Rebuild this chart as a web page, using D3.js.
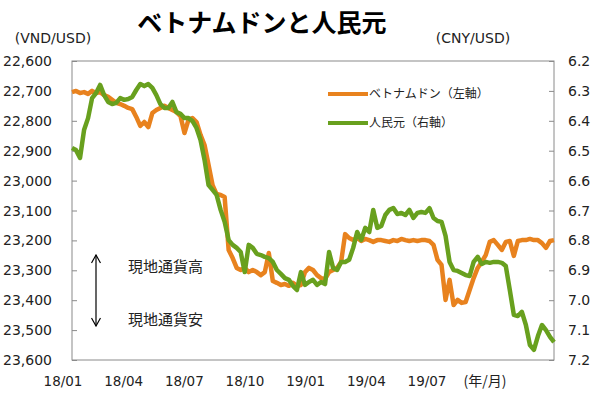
<!DOCTYPE html>
<html>
<head>
<meta charset="utf-8">
<script src="https://cdn.jsdelivr.net/npm/d3@7"></script>
<style>
  body { margin: 0; background: #fff; }
  text { font-family: "DejaVu Sans", sans-serif; fill: #222; }
  .jp { font-family: "Noto Sans CJK JP", sans-serif; }
</style>
</head>
<body>
<svg id="chart" width="594" height="393"></svg>
<script>
'use strict'

// ベトナムドン (VND/USD, left axis), sampled across the period
var vnd = [
  22704, 22700, 22707, 22704, 22710, 22700, 22707, 22704, 22714, 22720,
  22730, 22740, 22744, 22750, 22757, 22761, 22787, 22817, 22804, 22821,
  22774, 22764, 22757, 22750, 22757, 22764, 22771, 22784, 22841, 22797,
  22791, 22804, 22847, 22881, 22948, 23015, 23045, 23048, 23055, 23232,
  23259, 23292, 23299, 23292, 23306, 23299, 23306, 23316, 23306, 23242,
  23336, 23342, 23349, 23346, 23352, 23342, 23352, 23349, 23306, 23292,
  23299, 23316, 23326, 23329, 23306, 23299, 23292, 23272, 23179, 23192,
  23199, 23192, 23202, 23195, 23199, 23205, 23199, 23199, 23202, 23205,
  23199, 23202, 23195, 23199, 23202, 23199, 23202, 23199, 23199, 23202,
  23215, 23265, 23282, 23399, 23332, 23416, 23399, 23409, 23406, 23366,
  23326, 23292, 23272, 23249, 23205, 23199, 23215, 23232, 23205, 23202,
  23252, 23202, 23199, 23199, 23195, 23199, 23199, 23209, 23225, 23202,
  23199
]

// 人民元 (CNY/USD, right axis)
var cny = [
  6.491, 6.498, 6.524, 6.431, 6.391, 6.324, 6.307, 6.280, 6.314, 6.337,
  6.344, 6.340, 6.324, 6.330, 6.327, 6.320, 6.297, 6.277, 6.284, 6.277,
  6.290, 6.314, 6.344, 6.357, 6.357, 6.337, 6.371, 6.377, 6.391, 6.391,
  6.401, 6.424, 6.464, 6.531, 6.615, 6.631, 6.648, 6.698, 6.738, 6.799,
  6.815, 6.825, 6.839, 6.906, 6.815, 6.825, 6.845, 6.849, 6.855, 6.859,
  6.872, 6.899, 6.912, 6.926, 6.932, 6.952, 6.966, 6.906, 6.949, 6.939,
  6.932, 6.949, 6.939, 6.946, 6.839, 6.892, 6.899, 6.872, 6.872, 6.865,
  6.825, 6.772, 6.799, 6.758, 6.772, 6.698, 6.758, 6.752, 6.715, 6.698,
  6.692, 6.712, 6.708, 6.715, 6.698, 6.725, 6.708, 6.705, 6.708, 6.692,
  6.725, 6.735, 6.738, 6.785, 6.872, 6.899, 6.902, 6.909, 6.916, 6.919,
  6.872, 6.855, 6.879, 6.872, 6.875, 6.872, 6.872, 6.875, 6.886, 6.966,
  7.049, 7.053, 7.039, 7.083, 7.150, 7.166, 7.120, 7.083, 7.100, 7.123,
  7.140
]

var xLabels = ["18/01", "18/04", "18/07", "18/10", "19/01", "19/04", "19/07"]
var leftTicks = d3.range(22600, 23601, 100)
var rightTicks = d3.range(6.2, 7.21, 0.1)

var plot = { left: 72, right: 554, top: 61, bottom: 360 }
var orange = "#E8821E"
var green = "#68A01E"

var svg = d3.select("#chart")

var x = d3.scaleLinear().domain([0, vnd.length - 1]).range([plot.left, plot.right])
var yL = d3.scaleLinear().domain([22600, 23600]).range([plot.top, plot.bottom])
var yR = d3.scaleLinear().domain([6.2, 7.2]).range([plot.top, plot.bottom])
var xl = d3.scalePoint().domain(xLabels).range([63, 427])

// title and unit labels
svg.append("text").attr("class", "jp")
  .attr("x", 262).attr("y", 32)
  .attr("text-anchor", "middle")
  .style("font-size", "25px").style("font-weight", "bold").style("fill", "#000")
  .text("ベトナムドンと人民元")

svg.append("text").attr("x", 53).attr("y", 43).attr("text-anchor", "middle")
  .style("font-size", "14px").text("(VND/USD)")
svg.append("text").attr("x", 473).attr("y", 43).attr("text-anchor", "middle")
  .style("font-size", "14px").text("(CNY/USD)")

// frame
svg.append("rect")
  .attr("x", plot.left).attr("y", plot.top)
  .attr("width", plot.right - plot.left).attr("height", plot.bottom - plot.top)
  .attr("fill", "none").attr("stroke", "#8a8a8a").attr("stroke-width", 1)

// left axis, ticks inward
var gl = svg.append("g").attr("transform", "translate(" + plot.left + ",0)")
  .call(d3.axisRight(yL).tickValues(leftTicks).tickSize(5).tickFormat(""))
gl.select(".domain").remove()
gl.selectAll("line").attr("stroke", "#8a8a8a")

svg.append("g").selectAll("text").data(leftTicks).join("text")
  .attr("x", 52).attr("y", d => yL(d)).attr("dy", "0.36em")
  .attr("text-anchor", "end").style("font-size", "14px")
  .text(d => d3.format(",")(d))

// right axis
var gr = svg.append("g").attr("transform", "translate(" + plot.right + ",0)")
  .call(d3.axisLeft(yR).tickValues(rightTicks).tickSize(5).tickFormat(""))
gr.select(".domain").remove()
gr.selectAll("line").attr("stroke", "#8a8a8a")

svg.append("g").selectAll("text").data(rightTicks).join("text")
  .attr("x", 568).attr("y", d => yR(d)).attr("dy", "0.36em")
  .style("font-size", "14px")
  .text(d => d3.format(".1f")(d))

// x labels
svg.append("g").selectAll("text").data(xLabels).join("text")
  .attr("x", d => xl(d)).attr("y", 386)
  .attr("text-anchor", "middle").style("font-size", "13.5px")
  .text(d => d)
svg.append("text").attr("class", "jp").attr("x", 485).attr("y", 386)
  .attr("text-anchor", "middle").style("font-size", "14px").text("(年/月)")

// series
var lineL = d3.line().x((d, i) => x(i)).y(d => yL(d))
var lineR = d3.line().x((d, i) => x(i)).y(d => yR(d))

svg.append("path").datum(vnd).attr("d", lineL)
  .attr("fill", "none").attr("stroke", orange).attr("stroke-width", 4.5)
  .attr("stroke-linejoin", "round")
svg.append("path").datum(cny).attr("d", lineR)
  .attr("fill", "none").attr("stroke", green).attr("stroke-width", 4.5)
  .attr("stroke-linejoin", "round")

// legend
var legend = [
  { name: "ベトナムドン（左軸）", color: orange, y: 94 },
  { name: "人民元（右軸）", color: green, y: 123 }
]
var lg = svg.append("g").selectAll("g").data(legend).join("g")
lg.append("line").attr("x1", 328).attr("x2", 368)
  .attr("y1", d => d.y).attr("y2", d => d.y)
  .attr("stroke", d => d.color).attr("stroke-width", 4)
lg.append("text").attr("class", "jp")
  .attr("x", 369).attr("y", d => d.y).attr("dy", "0.36em")
  .style("font-size", "12px").text(d => d.name)

// currency direction note
var defs = svg.append("defs")
defs.append("marker").attr("id", "head")
  .attr("viewBox", "0 0 10 10").attr("refX", 9).attr("refY", 5)
  .attr("markerWidth", 10).attr("markerHeight", 10)
  .attr("markerUnits", "userSpaceOnUse")
  .attr("orient", "auto-start-reverse")
  .append("path").attr("d", "M1,0.5 L9,5 L1,9.5")
  .attr("fill", "none").attr("stroke", "#000").attr("stroke-width", 1.2)

svg.append("line").attr("x1", 96).attr("x2", 96).attr("y1", 326).attr("y2", 255)
  .attr("stroke", "#000").attr("stroke-width", 1.2)
  .attr("marker-start", "url(#head)").attr("marker-end", "url(#head)")

svg.append("text").attr("class", "jp").attr("x", 128).attr("y", 267).attr("dy", "0.36em")
  .style("font-size", "15px").text("現地通貨高")
svg.append("text").attr("class", "jp").attr("x", 128).attr("y", 320).attr("dy", "0.36em")
  .style("font-size", "15px").text("現地通貨安")
</script>
</body>
</html>
